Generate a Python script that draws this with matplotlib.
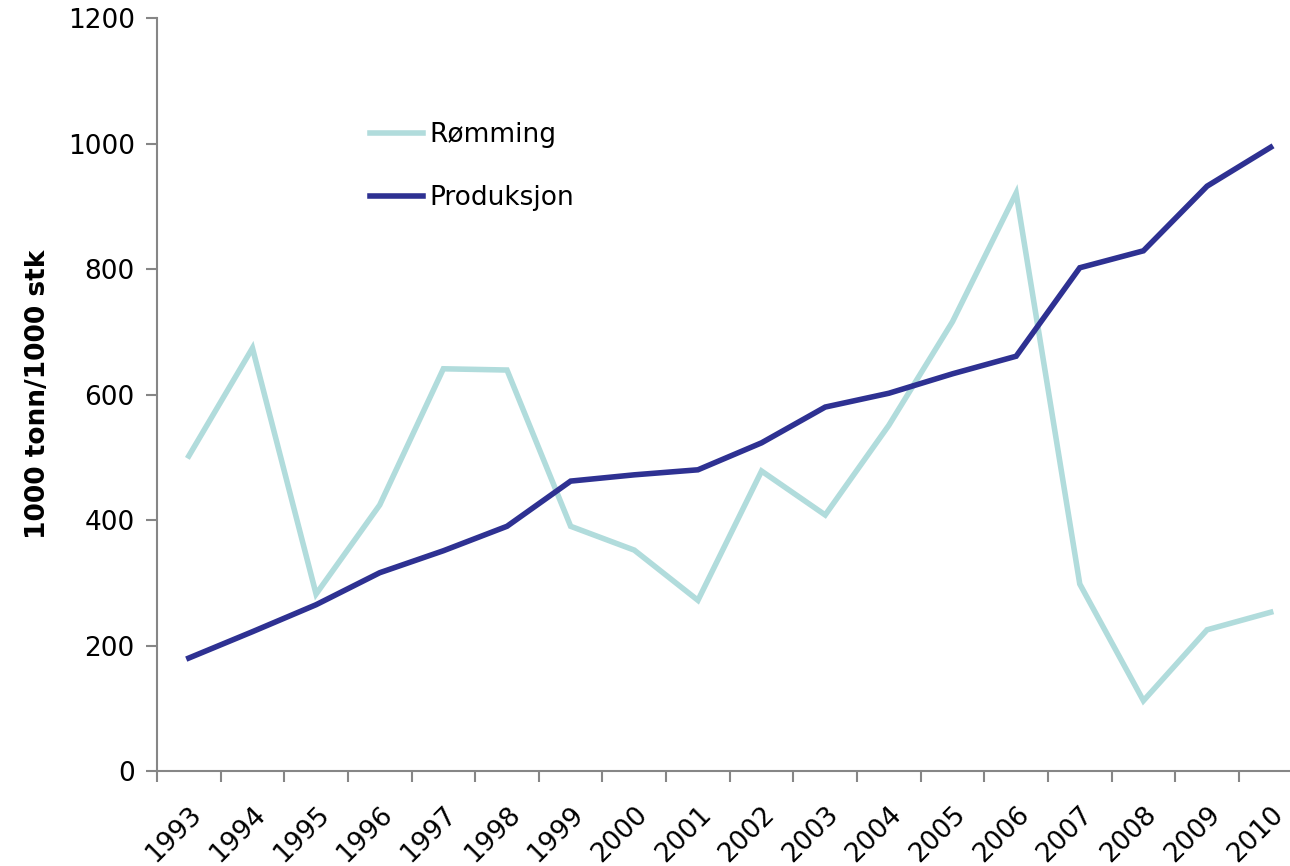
import matplotlib.pyplot as plt

years = [str(y) for y in range(1993, 2011)]
romming = [502, 674, 282, 424, 641, 639, 390, 352, 272, 478, 408, 551, 716, 921, 298, 112, 225, 253]
produksjon = [180, 222, 265, 316, 351, 390, 462, 472, 480, 523, 580, 602, 633, 661, 802, 829, 932, 994]

plt.rcParams['font.family'] = ['DejaVu Sans']

fig = plt.figure(figsize=(12.9, 8.66), dpi=100)
ax = fig.add_axes([0.1217, 0.1097, 0.888, 0.8695])

x = range(len(years))
ax.plot(x, romming, color='#b1dcdc', lw=4, label='Rømming', solid_joinstyle='miter')
ax.plot(x, produksjon, color='#2e3192', lw=4, label='Produksjon', solid_joinstyle='miter')

ax.set_ylim(0, 1200)
ax.set_xlim(-0.5, len(years) - 0.5)
ax.set_yticks(range(0, 1201, 200))
ax.set_xticks(x)
ax.set_xticklabels(years, rotation=45, ha='right', rotation_mode='anchor')
ax.set_xticks([i - 0.5 for i in range(len(years) + 1)], minor=True)
ax.tick_params(axis='x', which='major', length=0, labelsize=19, pad=22)
ax.tick_params(axis='x', which='minor', length=8, color='#868686', width=1.5)
ax.tick_params(axis='y', length=8, color='#868686', width=1.5, labelsize=19, pad=8)

for s in ['top', 'right']:
    ax.spines[s].set_visible(False)
for s in ['left', 'bottom']:
    ax.spines[s].set_color('#868686')
    ax.spines[s].set_linewidth(1.5)

ax.set_ylabel('1000 tonn/1000 stk', fontsize=19, fontweight='bold', labelpad=12)

ax.legend(loc='upper left', bbox_to_anchor=(0.165, 0.893), frameon=False, fontsize=19,
          handlelength=2.0, handletextpad=0.25, labelspacing=1.4)

fig.savefig('out.png', dpi=100)
